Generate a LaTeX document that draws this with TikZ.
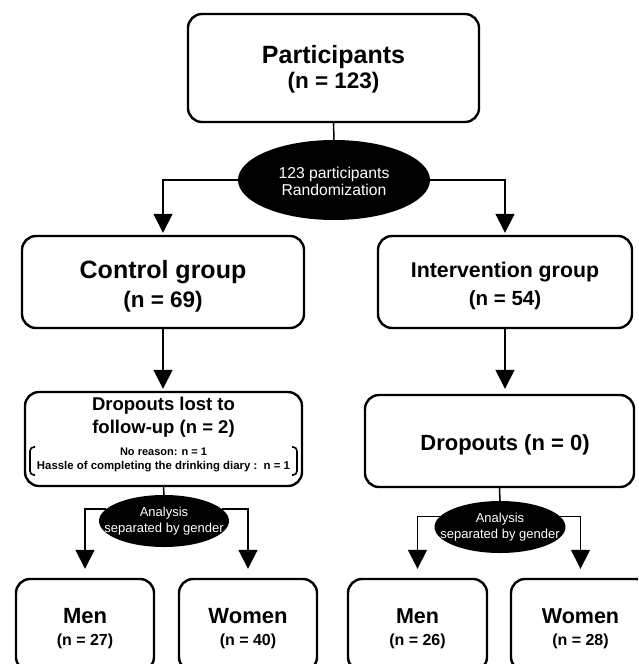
\documentclass[tikz,border=0pt]{standalone}
\usepackage{fontspec}
\setmainfont{Liberation Sans}
\usetikzlibrary{arrows.meta,shapes.geometric,backgrounds}
\begin{document}
\begin{tikzpicture}[x=1pt,y=-1pt,
  box/.style={draw, line width=2.4pt, rounded corners=14pt, inner sep=0pt},
  oval/.style={ellipse, fill=black, inner sep=0pt},
  lbl/.style={anchor=base, inner sep=0pt},
  ovaltext/.style={anchor=base, inner sep=0pt, text=white},
  conn/.style={line width=1.5pt},
  arr/.style={line width=1.5pt, -{Triangle[width=19pt,length=19pt]}},
  brk/.style={line width=1.6pt, rounded corners=4pt},
]
\useasboundingbox (0,0) rectangle (638,664);
\clip (0,0) rectangle (638,664);

% boxes
\node[box, minimum width=291pt, minimum height=108pt] (part) at (333.5,68) {};
\node[oval, minimum width=192pt, minimum height=80pt] (rand) at (334,180) {};
\node[box, minimum width=282pt, minimum height=92pt] (ctrl) at (163,282) {};
\node[box, minimum width=254pt, minimum height=92pt] (intv) at (505,282) {};
\node[box, minimum width=277pt, minimum height=94pt] (drop1) at (163.5,439) {};
\node[box, minimum width=269pt, minimum height=92pt] (drop2) at (499.5,441) {};
\node[oval, minimum width=130pt, minimum height=52pt] (ana1) at (164,521) {};
\node[oval, minimum width=131pt, minimum height=52pt] (ana2) at (500,527) {};
\node[box, minimum width=138pt, minimum height=92pt] (men1) at (85,625) {};
\node[box, minimum width=138pt, minimum height=92pt] (wom1) at (248,625) {};
\node[box, minimum width=139pt, minimum height=92pt] (men2) at (417.5,625) {};
\node[box, minimum width=139pt, minimum height=92pt] (wom2) at (580.5,625) {};

% connectors
\begin{scope}[on background layer]
\fill[white] (0,0) rectangle (638,664);
\draw[conn] (part.south) -- (rand.north);
\draw[arr, shorten >=2pt] (rand.west) -| (ctrl.north);
\draw[arr, shorten >=2pt] (rand.east) -| (intv.north);
\draw[arr, shorten >=2pt] (ctrl.south) -- (ctrl.south |- drop1.north);
\draw[arr, shorten >=5pt] (intv.south) -- (intv.south |- drop2.north);
\draw[conn] (drop1.south) -- (ana1.north);
\draw[conn] (drop2.south) -- (ana2.north);
\draw[arr, shorten >=9pt] (ana1.168) -| (men1.north);
\draw[arr, shorten >=9pt] (ana1.12) -| (wom1.north);
\draw[arr, shorten >=9pt] (ana2.170) -| (men2.north);
\draw[arr, shorten >=9pt] (ana2.10) -| (wom2.north);
\end{scope}

% texts
\node[lbl, font=\bfseries\fontsize{25}{29}\selectfont] (t1) at (333.5,63) {Participants};
\node[lbl, font=\bfseries\fontsize{22.5}{26}\selectfont] (t2) at (333.5,88) {(n = 123)};
\node[ovaltext, font=\fontsize{15.7}{18}\selectfont] (t3) at (334,178) {123 participants};
\node[ovaltext, font=\fontsize{15.7}{18}\selectfont] (t4) at (334,195) {Randomization};
\node[lbl, font=\bfseries\fontsize{25}{29}\selectfont] (t5) at (163,278) {Control group};
\node[lbl, font=\bfseries\fontsize{22.5}{26}\selectfont] (t6) at (163,307) {(n = 69)};
\node[lbl, font=\bfseries\fontsize{21.3}{25}\selectfont] (t7) at (505,277) {Intervention group};
\node[lbl, font=\bfseries\fontsize{20.5}{24}\selectfont] (t8) at (505,305) {(n = 54)};
\node[lbl, font=\bfseries\fontsize{18.5}{22}\selectfont] (t9) at (163.5,410) {Dropouts lost to};
\node[lbl, font=\bfseries\fontsize{18.5}{22}\selectfont] (t10) at (163.5,433) {follow-up (n = 2)};
\node[lbl, font=\bfseries\fontsize{11}{13}\selectfont] (t11) at (163.5,455) {No reason: n = 1};
\node[lbl, font=\bfseries\fontsize{11.4}{13}\selectfont] (t12) at (163.5,469) {Hassle of completing the drinking diary :\ \ n = 1};
\node[lbl, font=\bfseries\fontsize{22}{26}\selectfont] (t13) at (505,450) {Dropouts (n = 0)};
\node[ovaltext, font=\fontsize{13}{15}\selectfont] (t14) at (164,516) {Analysis};
\node[ovaltext, font=\fontsize{13}{15}\selectfont] (t15) at (164,532) {separated by gender};
\node[ovaltext, font=\fontsize{13}{15}\selectfont] (t16) at (500,522) {Analysis};
\node[ovaltext, font=\fontsize{13}{15}\selectfont] (t17) at (500,538) {separated by gender};
\node[lbl, font=\bfseries\fontsize{22}{26}\selectfont] (t18) at (85,623) {Men};
\node[lbl, font=\bfseries\fontsize{16}{19}\selectfont] (t19) at (85,645) {(n = 27)};
\node[lbl, font=\bfseries\fontsize{22}{26}\selectfont] (t20) at (248,623) {Women};
\node[lbl, font=\bfseries\fontsize{16}{19}\selectfont] (t21) at (248,645) {(n = 40)};
\node[lbl, font=\bfseries\fontsize{21.5}{25}\selectfont] (t22) at (417.5,623) {Men};
\node[lbl, font=\bfseries\fontsize{16}{19}\selectfont] (t23) at (417.5,645) {(n = 26)};
\node[lbl, font=\bfseries\fontsize{21.5}{25}\selectfont] (t24) at (580.5,623) {Women};
\node[lbl, font=\bfseries\fontsize{16}{19}\selectfont] (t25) at (580.5,645) {(n = 28)};

% brackets
\draw[brk] (35,447) -- (30,447) -- (30,475) -- (35,475);
\draw[brk] (292,447) -- (297,447) -- (297,475) -- (292,475);
\end{tikzpicture}
\end{document}
